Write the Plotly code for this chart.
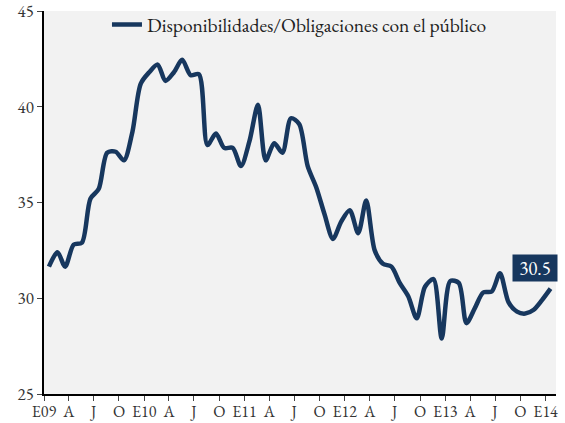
import plotly.graph_objects as go

# ---- data ----
series_name = "Disponibilidades/Obligaciones con el público"
start_year = 2009
n_months = 61
values = [
    31.65, 32.4, 31.65, 32.8, 32.9, 35.2, 35.7, 37.6, 37.65, 37.2, 38.7, 41.2,
    41.8, 42.2, 41.35, 41.8, 42.45, 41.65, 41.7, 38.0, 38.6, 37.85, 37.85, 36.9,
    38.2, 40.1, 37.2, 38.1, 37.6, 39.4, 39.1, 36.9, 35.8, 34.4, 33.1, 34.0,
    34.6, 33.4, 35.1, 32.5, 31.8, 31.65, 30.8, 30.1, 28.95, 30.6, 31.0, 27.9,
    30.9, 30.8, 28.7, 29.5, 30.3, 30.35, 31.3, 29.8, 29.3, 29.2, 29.4, 29.9,
    30.5,
]
dates = [f"{start_year + k // 12}-{k % 12 + 1:02d}-19" for k in range(n_months)]

tick_dates = [f"{start_year + q // 4}-{(q % 4) * 3 + 1:02d}-01" for q in range(21)]
tick_text = ["E09", "A", "J", "O", "E10", "A", "J", "O", "E11", "A", "J", "O",
             "E12", "A", "J", "O", "E13", "A", "J", "O", "E14"]
last_label = "30.5"

navy = "#17375E"
font_family = "EB Garamond, Garamond, Liberation Serif, serif"

fig = go.Figure()
fig.add_trace(go.Scatter(
    x=dates, y=values, mode="lines", name=series_name,
    line=dict(color=navy, width=4.5, shape="spline", smoothing=0.8),
))

fig.add_annotation(
    x=dates[-1], y=values[-1], xref="x", yref="y",
    text=last_label, showarrow=False,
    font=dict(family=font_family, size=19, color="white"),
    bgcolor=navy, borderpad=0,
    xanchor="center", yanchor="middle", xshift=-16, yshift=21,
    width=44, height=26,
)

fig.update_layout(
    width=565, height=423,
    margin=dict(l=44, r=9, t=11, b=29, autoexpand=False),
    paper_bgcolor="white", plot_bgcolor="#F2F2F2",
    font=dict(family=font_family, size=17, color="#333333"),
    showlegend=True,
    legend=dict(
        x=0.123, y=1.015, xanchor="left", yanchor="top",
        bgcolor="rgba(0,0,0,0)", font=dict(size=19.5, color="#222222"),
        itemwidth=30,
    ),
    xaxis=dict(
        type="date", range=["2009-01-01", "2014-02-08"],
        tickmode="array", tickvals=tick_dates, ticktext=tick_text,
        showgrid=False, zeroline=False, automargin=False,
        showline=True, linecolor="black", linewidth=1.5,
        ticks="outside", ticklen=5, tickcolor="#444444",
        tickangle=0, ticklabeloverflow="allow",
        tickfont=dict(size=16), ticklabelstandoff=-3,
    ),
    yaxis=dict(
        range=[25, 45], dtick=5, tick0=25,
        showgrid=False, zeroline=False, automargin=False,
        showline=True, linecolor="black", linewidth=1.5,
        ticks="outside", ticklen=5, tickcolor="#444444",
        ticklabeloverflow="allow",
    ),
)

# remove the page's default 8px body margin so the figure sits at the top-left corner
fig.write_html(
    "out.html",
    config={"displayModeBar": False},
    post_script="document.body.style.margin='0';",
)
